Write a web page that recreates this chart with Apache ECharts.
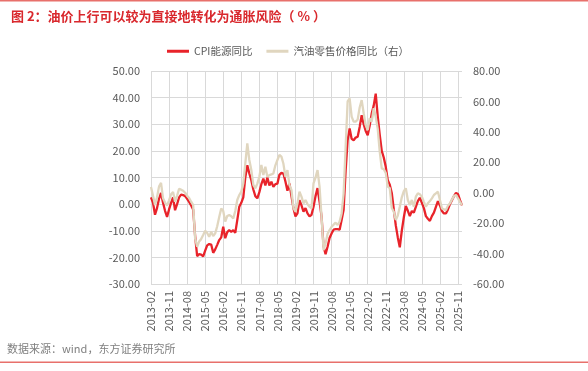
<!DOCTYPE html>
<html>
<head>
<meta charset="utf-8">
<script src="https://cdn.jsdelivr.net/npm/echarts@6/dist/echarts.min.js"></script>
<style>
html,body{margin:0;padding:0;background:#fff;}
#chart{width:588px;height:371px;}
</style>
</head>
<body>
<div id="chart"></div>
<script>
// Monthly categories 2013-02 .. 2026-01
var startYear = 2013, startMonth = 2, monthCount = 156;
var categories = [];
for (var k = 0; k < monthCount; k++) {
  var m = startMonth - 1 + k;
  var y = startYear + Math.floor(m / 12);
  var mm = (m % 12) + 1;
  categories.push(y + '-' + (mm < 10 ? '0' + mm : mm));
}

var seriesNames = ['CPI能源同比', '汽油零售价格同比（右）'];

// CPI energy YoY (left axis, %)
var cpiEnergy = [
  2.5, 0.5, -4.0, -1.5, 2.0, 4.2, 0.5, -2.5, -4.8, -2.0,
  0.5, 2.5, -2.3, 0.0, 2.5, 3.6, 3.4, 3.0, 2.0, 0.8,
  -0.5, -2.0, -12.0, -19.5, -18.8, -19.0, -19.6, -17.5, -15.5, -15.0,
  -15.2, -18.3, -17.0, -15.3, -13.5, -12.5, -8.5, -12.8, -10.5, -9.8,
  -10.4, -9.8, -10.8, -6.0, -1.0, 0.5, 2.5, 10.0, 14.6, 11.5,
  9.0, 5.5, 3.0, 2.2, 4.5, 7.5, 9.6, 7.0, 10.0, 7.0,
  8.4, 6.5, 7.5, 7.7, 11.0, 11.8, 11.5, 8.5, 5.0, 7.8,
  3.0, -1.5, -4.6, -3.5, 1.5, -0.5, -2.8, -1.5, -3.5, -4.6,
  -4.0, -1.0, 3.0, 6.0, 1.0, -4.6, -15.9, -18.8, -16.0, -12.7,
  -11.0, -9.6, -9.4, -9.4, -9.6, -6.0, -2.1, 12.5, 24.0, 28.4,
  24.5, 24.0, 25.0, 25.3, 29.0, 33.4, 30.0, 27.5, 25.9, 29.5,
  34.0, 37.0, 41.5, 33.0, 26.0, 20.0, 17.5, 14.0, 9.0, 7.3,
  4.2, -2.0, -8.0, -12.5, -16.2, -10.0, -5.0, -0.7, -2.5, -4.5,
  -2.6, -3.2, -1.0, 1.1, 2.4, 0.5, -1.5, -4.5, -5.5, -6.3,
  -4.5, -3.2, -1.0, 1.1, -0.5, -2.6, -3.5, -3.5, -2.0, 0.0,
  1.5, 3.0, 4.2, 3.8, 1.5, -0.5
];

// Gasoline retail price YoY (right axis, %)
var gasolineRetail = [
  3.7, -2.0, -8.0, -3.0, 4.0, 6.5, -3.7, -6.5, -8.5, -5.0,
  -1.0, 0.5, -5.9, -2.0, 2.5, 2.0, 1.3, 0.0, -2.0, -3.5,
  -5.9, -8.0, -30.0, -35.5, -32.0, -30.5, -27.8, -25.0, -26.5, -29.0,
  -25.6, -28.5, -26.7, -22.0, -16.0, -10.3, -12.0, -19.0, -15.3, -14.7,
  -15.5, -16.9, -12.0, -4.8, -1.5, 0.7, 6.0, 19.3, 32.5, 21.5,
  14.9, 5.1, 2.9, 6.0, 10.5, 18.2, 11.6, 17.1, 10.5, 11.6,
  12.0, 12.7, 18.0, 21.5, 24.8, 23.7, 19.0, 10.5, 14.9, 5.0,
  1.8, -10.0, -12.5, -7.0, 0.7, -2.6, -7.0, -4.8, -7.5, -9.2,
  -10.3, 6.2, 10.0, 14.9, 4.0, -15.8, -37.7, -33.3, -27.0, -24.5,
  -22.4, -21.0, -19.7, -21.2, -19.0, -13.6, -0.4, 30.0, 60.0, 62.0,
  50.0, 46.7, 46.7, 48.0, 56.0, 60.9, 52.2, 44.5, 41.2, 48.9,
  46.7, 55.5, 50.0, 42.0, 27.0, 16.0, 15.5, 13.0, 4.0, 3.0,
  -10.0, -12.5, -18.0, -15.0, -9.2, -3.0, 1.0, 2.9, -4.8, -8.1,
  -4.8, -9.2, -2.6, -0.4, -1.0, -2.6, -6.0, -9.2, -7.0, -5.5,
  -3.7, -1.5, -0.4, 0.7, -4.8, -10.3, -11.0, -11.4, -8.5, -7.0,
  -4.5, -2.2, -1.5, -3.7, -6.0, -8.1
];

var leftAxis = {min: -30, max: 50, interval: 10};
var rightAxis = {min: -60, max: 80, interval: 20};

var titleText = '图 2：油价上行可以较为直接地转化为通胀风险（ % ）';
var sourceText = '数据来源：wind，东方证券研究所';

var FONT = '"Noto Sans CJK SC", "Noto Sans", sans-serif';
var chart = echarts.init(document.getElementById('chart'), null, {renderer: 'canvas'});

chart.setOption({
  animation: false,
  backgroundColor: '#ffffff',
  title: {
    text: titleText,
    left: 6,
    top: 5,
    textStyle: {color: '#d9282d', fontSize: 13, fontWeight: 'bold', fontFamily: FONT}
  },
  legend: {
    data: seriesNames,
    left: 162,
    top: 41,
    itemWidth: 22,
    itemHeight: 3,
    itemGap: 14,
    icon: 'rect',
    textStyle: {color: '#595959', fontSize: 10.5, fontFamily: FONT}
  },
  graphic: [
    {type: 'rect', left: 0, top: 0, shape: {width: 588, height: 1.5}, style: {fill: '#e8706b'}},
    {type: 'rect', left: 0, top: 361.5, shape: {width: 588, height: 1.5}, style: {fill: '#e8706b'}},
    {type: 'text', left: 7, top: 343, style: {text: sourceText, fill: '#7f7f7f', fontSize: 11, fontFamily: FONT}}
  ],
  grid: {left: 151, right: 126, top: 71, bottom: 87, containLabel: false},
  xAxis: {
    type: 'category',
    data: categories,
    boundaryGap: false,
    axisLine: {show: true, lineStyle: {color: '#d9d9d9'}},
    axisTick: {show: false},
    axisLabel: {interval: 8, rotate: 90, color: '#595959', fontSize: 11, fontFamily: FONT, margin: 7},
    splitLine: {show: true, interval: 8, lineStyle: {color: '#d9d9d9', width: 1}}
  },
  yAxis: [
    {
      type: 'value',
      min: leftAxis.min, max: leftAxis.max, interval: leftAxis.interval,
      axisLine: {show: false},
      axisTick: {show: false},
      axisLabel: {color: '#595959', fontSize: 11, fontFamily: FONT, margin: 11,
        formatter: function (v) { return v.toFixed(2); }},
      splitLine: {show: true, lineStyle: {color: '#d9d9d9', width: 1}}
    },
    {
      type: 'value',
      min: rightAxis.min, max: rightAxis.max, interval: rightAxis.interval,
      axisLine: {show: false},
      axisTick: {show: false},
      axisLabel: {color: '#595959', fontSize: 11, fontFamily: FONT, margin: 11,
        formatter: function (v) { return v.toFixed(2); }},
      splitLine: {show: false}
    }
  ],
  series: [
    {
      name: seriesNames[0],
      type: 'line',
      yAxisIndex: 0,
      data: cpiEnergy,
      showSymbol: false,
      symbol: 'none',
      lineStyle: {color: '#e8232a', width: 2.3},
      itemStyle: {color: '#e8232a'}
    },
    {
      name: seriesNames[1],
      type: 'line',
      yAxisIndex: 1,
      data: gasolineRetail,
      showSymbol: false,
      symbol: 'none',
      lineStyle: {color: '#e0d6bf', width: 2.3},
      itemStyle: {color: '#e0d6bf'}
    }
  ]
});
</script>
</body>
</html>
